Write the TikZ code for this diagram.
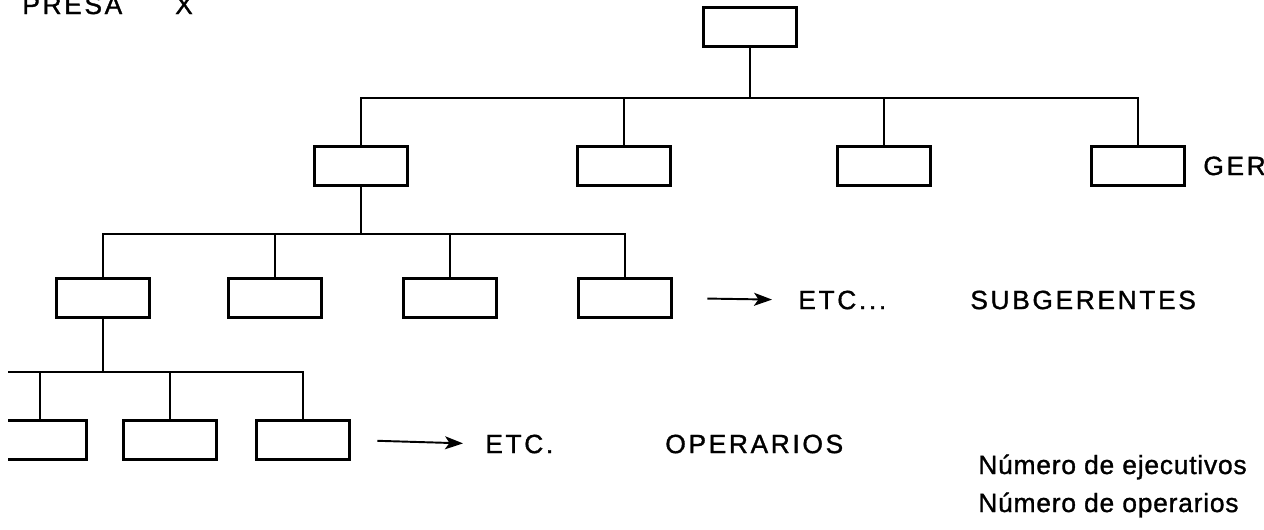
\documentclass[tikz,border=0pt]{standalone}
\usepackage{fontspec}
\newfontfamily\lettering[LetterSpace=10, FakeBold=1.2]{Liberation Sans}
\newfontfamily\letteringlow[LetterSpace=3, FakeBold=1.2]{Liberation Sans}
\usetikzlibrary{arrows.meta,positioning}

\begin{document}
\begin{tikzpicture}[x=0.02cm, y=-0.02cm,
    cargo/.style={draw, line width=1.8pt, minimum width=1.85cm, minimum height=0.78cm, inner sep=0pt},
    link/.style={line width=1.1pt},
    etcarrow/.style={-{Stealth[length=3.6mm, width=2.6mm, inset=0.9mm]}, line width=1.1pt},
    label/.style={font=\lettering\fontsize{15}{18}\selectfont, inner sep=0pt},
    note/.style={font=\letteringlow\fontsize{15}{18}\selectfont, inner sep=0pt, anchor=base west}
]
    \clip (0,0) rectangle (1264,529);

    % director
    \node[cargo] (top) at (750,27) {};
    % gerentes
    \node[cargo] (g1) at (361,166) {};
    \node[cargo] (g2) at (624,166) {};
    \node[cargo] (g3) at (884,166) {};
    \node[cargo] (g4) at (1138,166) {};
    % subgerentes
    \node[cargo] (s1) at (103,298) {};
    \node[cargo] (s2) at (275,298) {};
    \node[cargo] (s3) at (450,298) {};
    \node[cargo] (s4) at (625,298) {};
    % operarios (the first one is cut by the page edge)
    \begin{scope}
        \clip (8,400) rectangle (120,480);
        \node[cargo] (o1) at (40,440) {};
    \end{scope}
    \node[cargo] (o2) at (170,440) {};
    \node[cargo] (o3) at (303,440) {};

    % texts
    \node[label, anchor=base west] (empresa) at (22,14) {PRESA\hspace{1.06cm}X};
    \node[label, anchor=base west] (ger) at (1203,175) {GER};
    \node[label, anchor=west] (etc1) at (798,300) {ETC...};
    \node[label, anchor=west] (subg) at (970,300) {SUBGERENTES};
    \node[label, anchor=west] (etc2) at (485,444) {ETC.};
    \node[label, anchor=west] (oper) at (665,444) {OPERARIOS};
    \node[note] (nejec) at (978,474) {Número de ejecutivos};
    \node[note] (noper) at (978,512) {Número de operarios};

    % connectors
    \coordinate (bus1) at (750,98);
    \draw[link] (top.south) -- (bus1);
    \draw[link] (g1.north) |- (g4.north |- bus1) -- (g4.north);
    \draw[link] (g2.north) -- (g2.north |- bus1);
    \draw[link] (g3.north) -- (g3.north |- bus1);

    \coordinate (bus2) at (361,234);
    \draw[link] (g1.south) -- (bus2);
    \draw[link] (s1.north) |- (s4.north |- bus2) -- (s4.north);
    \draw[link] (s2.north) -- (s2.north |- bus2);
    \draw[link] (s3.north) -- (s3.north |- bus2);

    \coordinate (bus3) at (103,372);
    \coordinate (cut) at (8,372);
    \draw[link] (s1.south) -- (bus3);
    \draw[link] (cut) -| (o3.north);
    \draw[link] (o1.north) -- (o1.north |- bus3);
    \draw[link] (o2.north) -- (o2.north |- bus3);

    \draw[etcarrow, shorten <=0.69cm, shorten >=0.52cm] (s4.east) -- (etc1.west);
    \draw[etcarrow, shorten <=0.53cm, shorten >=0.44cm] (o3.east) -- (etc2.west);
\end{tikzpicture}
\end{document}
